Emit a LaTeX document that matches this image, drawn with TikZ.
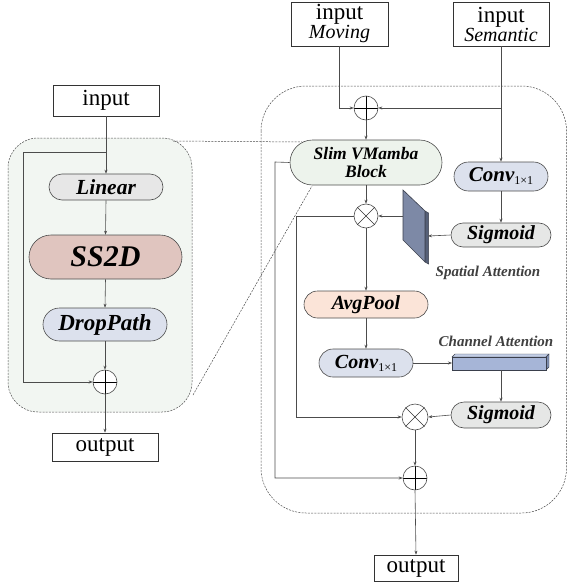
\documentclass[tikz,border=0pt]{standalone}
\usepackage{fontspec}
\setmainfont{LiberationSerif}[Extension=.ttf, UprightFont=*-Regular, BoldFont=*-Bold, ItalicFont=*-Italic, BoldItalicFont=*-BoldItalic]
\usetikzlibrary{arrows.meta,calc}
\definecolor{panelL}{HTML}{F2F6F2}
\definecolor{cLinear}{HTML}{E7E7E7}
\definecolor{cSS}{HTML}{E0C5BF}
\definecolor{cBlue}{HTML}{DCE1ED}
\definecolor{cSlim}{HTML}{EDF3EC}
\definecolor{cSig}{HTML}{E6E7E6}
\definecolor{cAvg}{HTML}{FBE4D8}
\definecolor{slabF}{HTML}{7D89A6}
\definecolor{slabS}{HTML}{566078}
\definecolor{slabE}{HTML}{3A3F4C}
\definecolor{barF}{HTML}{A6B5D7}
\definecolor{barT}{HTML}{C3CEE6}
\definecolor{barS}{HTML}{7F8FB0}
\newcommand{\onebyone}{\raisebox{-3pt}{\fontsize{12}{12}\selectfont\normalfont 1×1}}
\newcommand{\itl}[1]{{\fontsize{20}{20}\selectfont\itshape #1}}
\begin{document}
\begin{tikzpicture}[x=1pt,y=-1pt,
  conn/.style={draw=black!70, line width=0.6pt},
  arr/.style={conn, -{Stealth[length=4pt,width=3pt]}},
  iobox/.style={draw=black!80, line width=0.7pt, fill=white, inner sep=0pt, align=center, font=\fontsize{23}{19}\selectfont},
  pill/.style={draw=black!70, line width=0.6pt, inner sep=0pt, align=center, font=\fontsize{20}{18}\selectfont\bfseries\itshape},
  panel/.style={draw=black!70, line width=0.5pt, dash pattern=on 2pt off 1.2pt},
  zoomline/.style={draw=black!70, line width=0.5pt, dash pattern=on 2pt off 1.2pt},
  opl/.style={circle, draw=black!70, line width=0.6pt, fill=white, minimum size=24pt, inner sep=0pt,
    path picture={\draw[black, line width=0.8pt] (path picture bounding box.north) -- (path picture bounding box.south) (path picture bounding box.west) -- (path picture bounding box.east);}},
  otm/.style={circle, draw=black!70, line width=0.6pt, fill=white, minimum size=24pt, inner sep=0pt},
  lbl/.style={font=\fontsize{15}{15}\selectfont\bfseries\itshape, text=black!75}
]
\useasboundingbox (0,0) rectangle (567,586);

% panels
\draw[panel, fill=panelL, rounded corners=30pt] (8,138) rectangle (192,412);
\draw[panel, rounded corners=45pt] (261,86) rectangle (566.5,513);

% zoom lines
\draw[zoomline] (173,141) -- (302,142);
\draw[zoomline] (193,395) -- (312,186);

% ---------- left block ----------
\node[iobox, minimum width=106pt, minimum height=31pt] (inL) at (106,100.5) {input};
\node[pill, fill=cLinear, minimum width=114pt, minimum height=26pt, rounded corners=13pt, font=\fontsize{21.5}{21}\selectfont\bfseries\itshape] (linear) at (106,187) {Linear};
\node[pill, fill=cSS, minimum width=153pt, minimum height=44pt, rounded corners=22pt, font=\fontsize{30}{30}\selectfont\bfseries\itshape] (ss2d) at (105.5,257) {SS2D};
\node[pill, fill=cBlue, minimum width=124pt, minimum height=33pt, rounded corners=16.5pt, font=\fontsize{23}{23}\selectfont\bfseries\itshape] (drop) at (105,324.5) {DropPath};
\node[opl] (oplL) at (105,382) {};
\node[iobox, minimum width=106pt, minimum height=28pt] (outL) at (105,447) {output};

\coordinate (splitL) at (106,152);
\coordinate (skL) at (23,152);
\draw[arr] (inL.south) -- (linear.north);
\draw[arr] (splitL) -- (skL) |- (oplL.west);
\draw[arr] (linear.south) -- (ss2d.north);
\draw[arr] (ss2d.south) -- (drop.north);
\draw[arr] (drop.south) -- (oplL.north);
\draw[arr] (oplL.south) -- (outL.north);

% ---------- right block ----------
\node[iobox, minimum width=97pt, minimum height=44pt] (moving) at (339.5,24) {input\\\itl{Moving}};
\node[iobox, minimum width=96pt, minimum height=44pt] (semantic) at (501,24) {input\\\itl{Semantic}};
\node[opl] (oplT) at (366,108) {};
\node[pill, fill=cSlim, minimum width=152pt, minimum height=45pt, rounded corners=22.5pt, font=\fontsize{17.5}{18}\selectfont\bfseries\itshape] (slim) at (366,162.5) {Slim VMamba\\Block};
\node[pill, fill=cBlue, minimum width=94pt, minimum height=29pt, rounded corners=14.5pt, font=\fontsize{21}{21}\selectfont\bfseries\itshape] (conv1) at (501,176.5) {Conv\onebyone};
\node[pill, fill=cSig, minimum width=100pt, minimum height=24pt, rounded corners=12pt] (sig1) at (501,235) {Sigmoid};
\node[otm] (otm1) at (366,216) {};
\draw[black!80, line width=0.6pt] (otm1.north east) -- (otm1.south west) (otm1.north west) -- (otm1.south east);

% spatial attention slab
\coordinate (slabL) at (403,216);
\coordinate (slabR) at (428,236);
\filldraw[fill=slabS, draw=slabE, line width=0.5pt] (425,211) -- (428.5,213) -- (428.5,264) -- (425,262) -- cycle;
\filldraw[fill=slabF, draw=slabE, line width=0.6pt] (403,190) -- (425,211) -- (425,262) -- (403,240) -- cycle;
\node[lbl] (spatlbl) at (488,273) {Spatial Attention};

\node[pill, fill=cAvg, minimum width=124pt, minimum height=27pt, rounded corners=13.5pt] (avg) at (366,304.5) {AvgPool};
\node[pill, fill=cBlue, minimum width=94pt, minimum height=28pt, rounded corners=14pt] (conv2) at (366,363) {Conv\onebyone};
\node[lbl] (chanlbl) at (496,341) {Channel Attention};

% channel attention bar
\coordinate (barL) at (452,363);
\coordinate (barB) at (501,370);
\filldraw[fill=barT, draw=slabE, line width=0.4pt] (452,357) -- (455,354) -- (549,354) -- (546,357) -- cycle;
\filldraw[fill=barS, draw=slabE, line width=0.4pt] (546,357) -- (549,354) -- (549,367) -- (546,370) -- cycle;
\filldraw[fill=barF, draw=slabE, line width=0.5pt] (452,357) rectangle (546,370);

\node[pill, fill=cSig, minimum width=100pt, minimum height=26pt, rounded corners=13pt] (sig2) at (501,415) {Sigmoid};
\node[otm, minimum size=26pt] (otm2) at (415,417) {};
\draw[black!80, line width=0.6pt] (otm2.north east) -- (otm2.south west) (otm2.north west) -- (otm2.south east);
\node[opl] (opl2) at (415,478) {};
\node[iobox, minimum width=84pt, minimum height=26pt] (outR) at (416,568) {output};

% connectors right
\coordinate (brS) at (501,108);
\coordinate (skA) at (296,216);
\coordinate (skB) at (275,162);
\draw[arr] (moving.south) |- (oplT.west);
\draw[arr] (semantic.south) -- (conv1.north);
\draw[arr] (brS) -- (oplT.east);
\draw[arr] (oplT.south) -- (slim.north);
\draw[arr] (slim.south) -- (otm1.north);
\draw[arr] (conv1.south) -- (sig1.north);
\draw[arr] (sig1.west) -- (slabR);
\draw[arr] (slabL) -- (otm1.east);
\draw[arr] (otm1.south) -- (avg.north);
\draw[arr] (avg.south) -- (conv2.north);
\draw[arr] (conv2.east) -- (barL);
\draw[arr] (barB) -- (sig2.north);
\draw[arr] (sig2.west) -- (otm2.east);
\draw[arr] (otm1.west) -- (skA) |- (otm2.west);
\draw[arr] (slim.west) -- (skB) |- (opl2.west);
\draw[arr] (otm2.south) -- (opl2.north);
\draw[arr] (opl2.south) -- (outR.north);
\end{tikzpicture}
\end{document}
